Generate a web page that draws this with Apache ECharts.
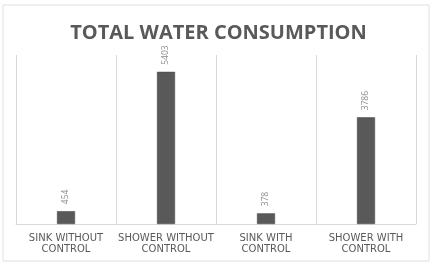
<!DOCTYPE html>
<html>
<head>
<meta charset="utf-8">
<script src="https://cdn.jsdelivr.net/npm/echarts@6/dist/echarts.min.js"></script>
<style>
  html, body { margin: 0; padding: 0; background: #fff; }
  #chart { width: 437px; height: 263px; }
</style>
</head>
<body>
<div id="chart"></div>
<script>
// data
const categories = ['SINK WITHOUT\nCONTROL', 'SHOWER WITHOUT\nCONTROL', 'SINK WITH\nCONTROL', 'SHOWER WITH\nCONTROL']
const consumption = [454, 5403, 378, 3786]
const yMax = 6000

// colours
const barColor = '#595959'
const textColor = '#595959'
const lineColor = '#d9d9d9'

const chart = echarts.init(document.getElementById('chart'))
chart.setOption({
  animation: false,
  title: {
    text: 'TOTAL WATER CONSUMPTION',
    left: 'center',
    top: 18,
    textStyle: {
      color: textColor,
      fontFamily: 'Open Sans',
      fontWeight: 'bold',
      fontSize: 20
    }
  },
  graphic: [{
    type: 'rect',
    shape: { x: 3, y: 5, width: 426, height: 256 },
    style: { fill: 'none', stroke: '#e0e0e0', lineWidth: 1 },
    silent: true
  }],
  grid: { left: 16, right: 21, top: 55, bottom: 39 },
  xAxis: {
    type: 'category',
    data: categories,
    axisLine: { lineStyle: { color: lineColor } },
    axisTick: { show: false },
    splitLine: { show: true, interval: 0, lineStyle: { color: lineColor } },
    axisLabel: {
      color: textColor,
      fontFamily: 'DejaVu Sans',
      fontSize: 10,
      lineHeight: 11,
      margin: 9,
      interval: 0
    }
  },
  yAxis: {
    type: 'value',
    min: 0,
    max: yMax,
    show: false
  },
  series: [{
    type: 'bar',
    data: consumption,
    barWidth: 18,
    itemStyle: { color: barColor, borderColor: '#404040', borderWidth: 0.5 },
    label: {
      show: true,
      position: 'top',
      distance: 7,
      rotate: 90,
      align: 'left',
      verticalAlign: 'middle',
      color: '#8c8c8c',
      fontFamily: 'Open Sans',
      fontSize: 8.5
    }
  }]
})
</script>
</body>
</html>
